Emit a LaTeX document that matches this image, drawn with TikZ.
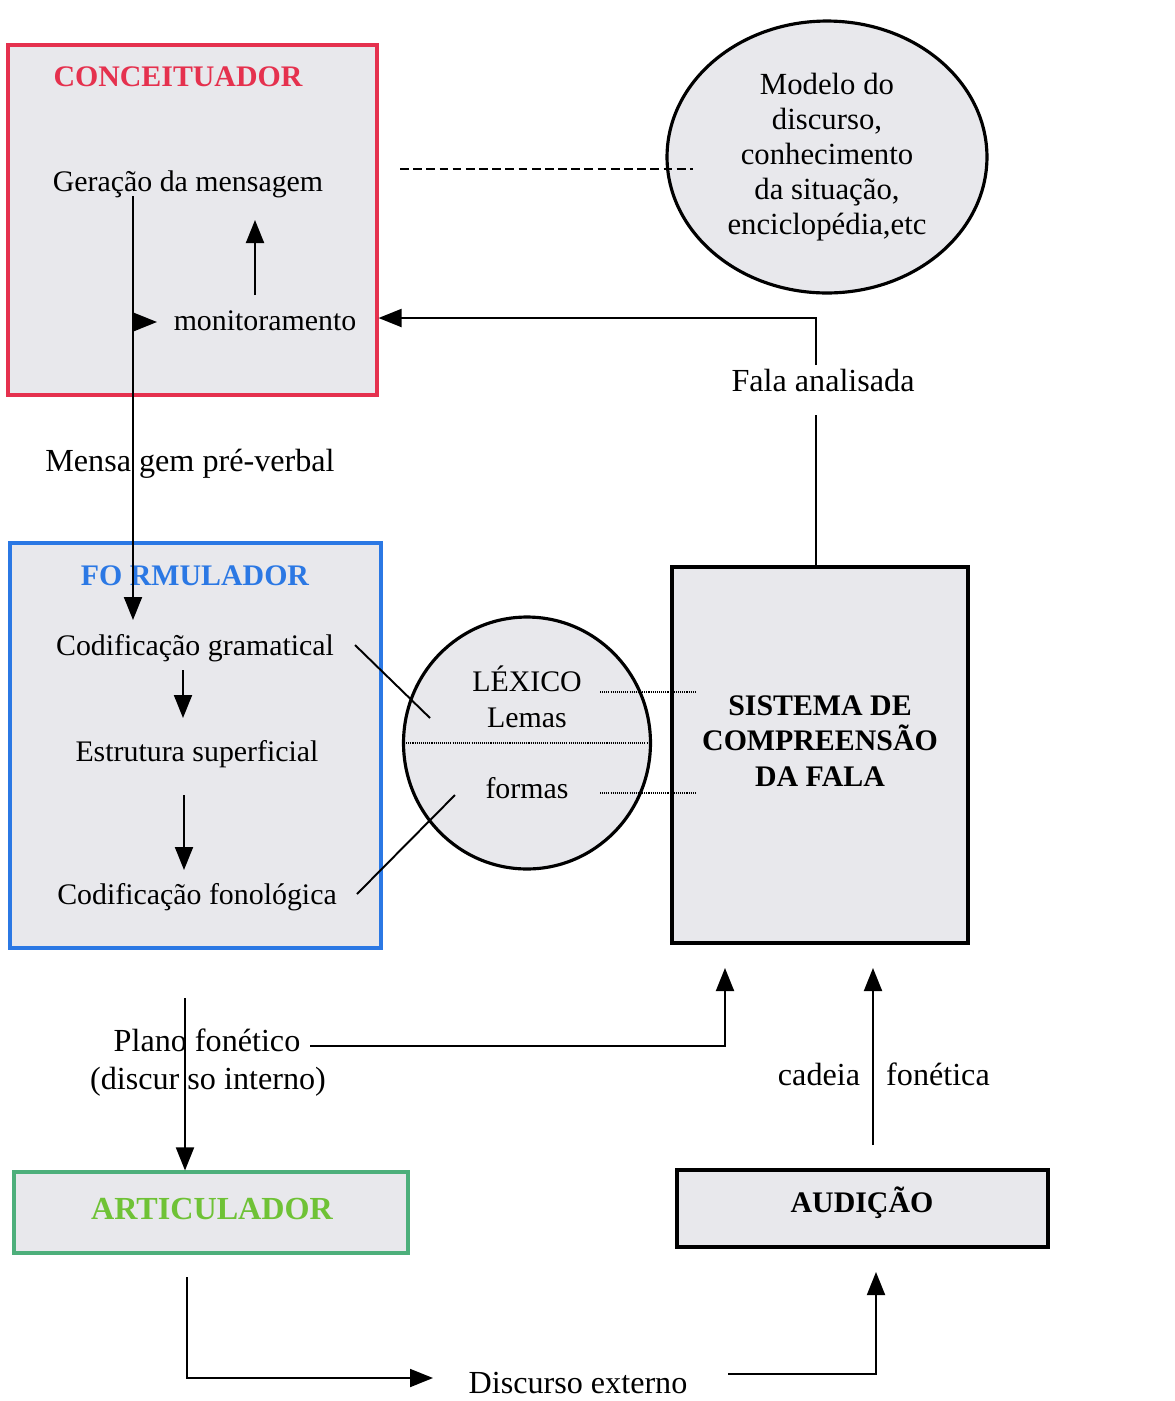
\documentclass[tikz,border=0pt]{standalone}
\usepackage{fontspec}
\setmainfont{Liberation Serif}
\usetikzlibrary{positioning, arrows.meta, shapes.geometric}

\definecolor{boxgray}{HTML}{E8E8EC}
\definecolor{conred}{HTML}{E5314E}
\definecolor{forblue}{HTML}{2B78E4}
\definecolor{artline}{HTML}{4DAF7B}
\definecolor{arttext}{HTML}{6FC236}

\begin{document}
\begin{tikzpicture}[
  x=0.02cm, y=-0.02cm,
  module/.style={draw, fill=boxgray, line width=1.8pt, inner sep=0pt},
  bubble/.style={draw, ellipse, fill=boxgray, line width=1.8pt, inner sep=0pt,
                 align=center, font=\fontsize{17.5}{20}\selectfont},
  txt/.style={font=\fontsize{17}{20}\selectfont, inner sep=0pt, anchor=base},
  lbl/.style={font=\fontsize{18.3}{21}\selectfont, inner sep=0pt, anchor=base},
  ttl/.style={font=\fontsize{17}{20.4}\selectfont\bfseries, inner sep=0pt, align=center},
  arr/.style={-{Triangle[length=0.46cm, width=0.36cm]}, line width=1.1pt},
  link/.style={line width=1.1pt},
  dashlink/.style={line width=0.9pt, dash pattern=on 5pt off 2.5pt},
  dotlink/.style={line width=1pt, dash pattern=on 0.6pt off 0.6pt},
]
\fill[white] (0,0) rectangle (1175,1401);
\useasboundingbox (0,0) rectangle (1175,1401);

% Conceituador
\node[module, draw=conred, minimum width=7.38cm, minimum height=7cm] (conc) at (192.5,220) {};
\node[ttl, text=conred, anchor=base] (concT) at (178,86) {CONCEITUADOR};
\node[txt] (gen) at (188,191) {Geração da mensagem};
\node[txt] (mon) at (265,330) {monitoramento};

% Modelo do discurso
\node[bubble, minimum width=6.4cm, minimum height=5.44cm] (mod) at (827,157)
  {Modelo do\\discurso,\\conhecimento\\da situação,\\enciclopédia,etc};

% Formulador
\node[module, draw=forblue, minimum width=7.42cm, minimum height=8.1cm] (form) at (195.5,745.5) {};
\node[ttl, text=forblue, anchor=base] (formT) at (195,585) {FO RMULADOR};
\node[txt] (codg) at (195,655) {Codificação gramatical};
\node[txt] (estr) at (197,761) {Estrutura superficial};
\node[txt] (codf) at (197,904) {Codificação fonológica};

% Lexico
\node[bubble, minimum width=4.94cm, minimum height=5.04cm] (lex) at (527,743) {};
\node[txt] (lexT) at (527,691) {LÉXICO};
\node[txt] (lem) at (527,727) {Lemas};
\node[txt] (frm) at (527,798) {formas};

% Sistema de compreensao
\node[module, draw=black, line width=2.2pt, minimum width=5.92cm, minimum height=7.52cm] (sist) at (820,755) {};
\node[ttl] (sistT) at (820,741) {SISTEMA DE\\COMPREENSÃO\\DA FALA};

% Articulador / Audicao
\node[module, draw=artline, minimum width=7.88cm, minimum height=1.62cm] (art) at (211,1212.5) {};
\node[ttl, text=arttext, font=\fontsize{18.3}{21}\selectfont\bfseries, anchor=base] (artT) at (212,1219) {ARTICULADOR};
\node[module, draw=black, line width=2.2pt, minimum width=7.42cm, minimum height=1.54cm] (aud) at (862.5,1208.5) {};
\node[ttl, anchor=base] (audT) at (862,1212) {AUDIÇÃO};

% Labels on the connectors
\node[lbl] (fala) at (823,391) {Fala analisada};
\node[lbl] (mensa) at (190,471) {Mensa gem pré-verbal};
\node[lbl] (plano) at (207,1051) {Plano fonético};
\node[lbl] (disc) at (208,1089) {(discur so interno)};
\node[lbl] (cad) at (819,1085) {cadeia};
\node[lbl] (fon) at (938,1085) {fonética};
\node[lbl] (ext) at (578,1393) {Discurso externo};

% Free ends
\coordinate (g1) at (133,196);
\coordinate (g2) at (133,620);
\coordinate (m1) at (133,322);
\coordinate (m2) at (157,322);
\coordinate (u1) at (255,295);
\coordinate (u2) at (255,220);
\coordinate (fa1) at (816,415);
\coordinate (fa2) at (816,365);
\coordinate (fa3) at (816,318);
\coordinate (d1) at (400,169);
\coordinate (d2) at (693,169);
\coordinate (e1) at (183,670);
\coordinate (e2) at (183,718);
\coordinate (e3) at (184,795);
\coordinate (e4) at (184,870);
\coordinate (l1) at (355,645);
\coordinate (l2) at (430,718);
\coordinate (l3) at (357,894);
\coordinate (l4) at (455,795);
\coordinate (s1) at (600,692);
\coordinate (s2) at (695,692);
\coordinate (s3) at (600,793);
\coordinate (s4) at (695,793);
\coordinate (p1) at (185,998);
\coordinate (p2) at (310,1046);
\coordinate (p3) at (725,1046);
\coordinate (p4) at (725,968);
\coordinate (c1) at (873,1145);
\coordinate (c2) at (873,968);
\coordinate (a1) at (187,1277);
\coordinate (a2) at (187,1378);
\coordinate (a3) at (433,1378);
\coordinate (h1) at (728,1374);
\coordinate (h2) at (876,1374);
\coordinate (h3) at (876,1272);

% === Arrows ===
\draw[arr] (g1) -- (g2);
\draw[arr] (m1) -- (m2);
\draw[arr] (u1) -- (u2);

\draw[link] (sist.north -| fa1) -- (fa1);
\draw[arr] (fa2) -- (fa3) -- (fa3 -| conc.east);

\draw[dashlink] (d1) -- (d2);

\draw[arr] (e1) -- (e2);
\draw[arr] (e3) -- (e4);

\draw[link] (l1) -- (l2);
\draw[link] (l3) -- (l4);

\draw[dotlink] (lex.west) -- (lex.east);
\draw[dotlink] (s1) -- (s2);
\draw[dotlink] (s3) -- (s4);

\draw[arr] (p1) -- (p1 |- art.north);
\draw[arr] (p2) -- (p3) -- (p4);
\draw[arr] (c1) -- (c2);

\draw[arr] (a1) -- (a2) -- (a3);
\draw[arr] (h1) -- (h2) -- (h3);

\end{tikzpicture}
\end{document}
